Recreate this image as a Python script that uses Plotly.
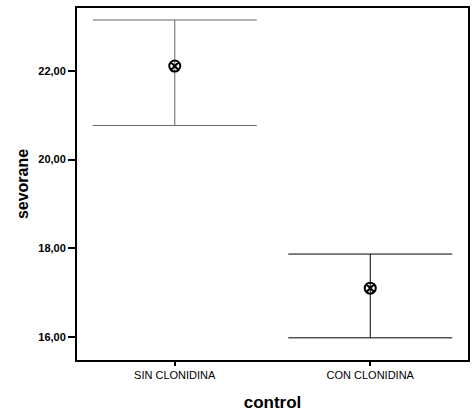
import plotly.graph_objects as go

categories = ["SIN CLONIDINA", "CON CLONIDINA"]
means = [22.11, 17.10]
upper = [23.15, 17.87]
lower = [20.77, 15.98]
ytick_vals = [16, 18, 20, 22]
ytick_text = ["16,00", "18,00", "20,00", "22,00"]

err_plus = [u - m for u, m in zip(upper, means)]
err_minus = [m - l for m, l in zip(means, lower)]

fig = go.Figure()
colors = ["#666666", "#000000"]
for i in range(len(categories)):
    fig.add_trace(go.Scatter(
        x=[categories[i]], y=[means[i]], mode="markers",
        marker=dict(symbol="circle-x-open", size=11, color="black",
                    line=dict(width=2, color="black")),
        error_y=dict(type="data", symmetric=False, array=[err_plus[i]],
                     arrayminus=[err_minus[i]], width=82, thickness=1,
                     color=colors[i]),
        showlegend=False,
    ))

fig.update_layout(
    width=472, height=415,
    margin=dict(l=77, r=2, t=8, b=55),
    plot_bgcolor="white", paper_bgcolor="white",
    font=dict(family="Liberation Sans, Arial, sans-serif", color="black"),
)
fig.update_xaxes(
    type="category", range=[-0.5, 1.5],
    showline=True, linecolor="black", linewidth=2, mirror=True,
    ticks="outside", ticklen=4, tickwidth=2, tickcolor="black",
    tickfont=dict(size=11),
    showgrid=False, zeroline=False,
    title=dict(text="<b>control</b>", font=dict(size=17), standoff=16),
)
fig.update_yaxes(
    range=[15.48, 23.42],
    tickvals=ytick_vals, ticktext=["<b>%s</b>" % t for t in ytick_text],
    showline=True, linecolor="black", linewidth=2, mirror=True,
    ticks="outside", ticklen=7, tickwidth=2, tickcolor="black",
    tickfont=dict(size=11, family="Liberation Sans, Arial, sans-serif"),
    showgrid=False, zeroline=False,
    title=dict(text="<b>sevorane</b>", font=dict(size=16), standoff=6),
)

fig.write_html("out.html")
